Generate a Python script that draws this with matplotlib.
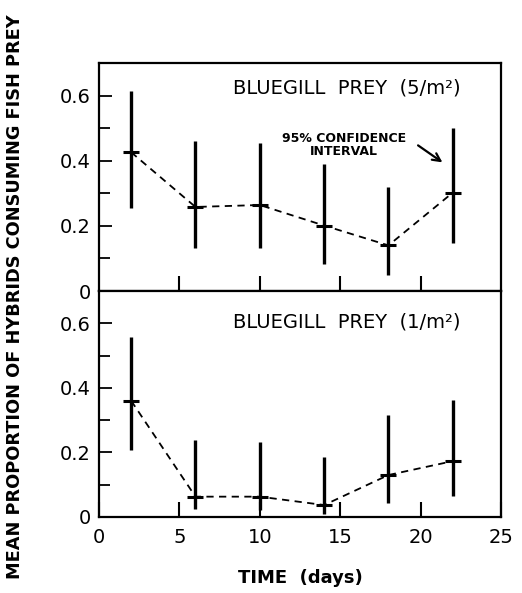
import matplotlib
matplotlib.use("Agg")
import matplotlib.pyplot as plt
import numpy as np

days = [2, 6, 10, 14, 18, 22]

# Bluegill prey 5/m^2
mean_5 = [0.426, 0.258, 0.264, 0.201, 0.140, 0.302]
low_5 = [0.256, 0.132, 0.132, 0.083, 0.050, 0.148]
high_5 = [0.614, 0.459, 0.454, 0.390, 0.320, 0.500]

# Bluegill prey 1/m^2
mean_1 = [0.360, 0.063, 0.063, 0.037, 0.130, 0.173]
low_1 = [0.207, 0.024, 0.022, 0.008, 0.042, 0.065]
high_1 = [0.558, 0.238, 0.231, 0.187, 0.316, 0.362]

xticks = [0, 5, 10, 15, 20, 25]
yticks_major = [0, 0.2, 0.4, 0.6]
yticks_minor = [0.1, 0.3, 0.5]

plt.rcParams['font.family'] = ['DejaVu Sans']

fig = plt.figure(figsize=(5.22, 5.93), dpi=100)
W, H = 522, 593
left = 99 / W
width = (501 - 99) / W
ax1 = fig.add_axes([left, 1 - 291 / H, width, (291 - 63) / H])
ax2 = fig.add_axes([left, 1 - 517 / H, width, (517 - 291) / H])


def panel(ax, mean, low, high, title, ty):
    mean = np.array(mean)
    low = np.array(low)
    high = np.array(high)
    ax.vlines(days, low, high, color='black', lw=2.4)
    ax.plot(days, mean, ls=(0, (4, 3)), color='black', lw=1.3)
    ax.plot(days, mean, ls='none', marker='_', ms=11, mew=2.2, color='black')
    ax.set_xlim(0, 25)
    ax.set_ylim(0, 0.7)
    ax.set_yticks(yticks_major)
    ax.set_yticklabels(['0', '0.2', '0.4', '0.6'])
    ax.set_yticks(yticks_minor, minor=True)
    ax.set_xticks([5, 10, 15, 20])
    ax.tick_params(axis='x', direction='in', length=11, width=1.5,
                   labelbottom=False)
    ax.tick_params(axis='y', direction='in', length=9, width=1.3,
                   labelsize=14, pad=6)
    ax.tick_params(axis='y', which='minor', direction='in', length=8, width=1.3)
    for s in ax.spines.values():
        s.set_linewidth(1.6)
    ax.text(0.333, ty, title, transform=ax.transAxes, fontsize=14,
            va='center', ha='left')


panel(ax1, mean_5, low_5, high_5, 'BLUEGILL  PREY  (5/m²)', 0.89)
panel(ax2, mean_1, low_1, high_1, 'BLUEGILL  PREY  (1/m²)', 0.863)

ax2.set_xticks(xticks, labels=[str(v) for v in xticks])
ax2.tick_params(axis='x', direction='in', length=11, width=1.5,
                labelbottom=True, labelsize=14, pad=8)

ax2.set_xlabel('TIME  (days)', fontsize=13, fontweight='bold', labelpad=16)

ax1.text(0.61, 0.64, '95% CONFIDENCE\nINTERVAL',
         transform=ax1.transAxes, fontsize=9, fontweight='bold',
         ha='center', va='center', linespacing=1.0)
ax1.annotate('', xy=(21.5, 0.39), xytext=(19.7, 0.452),
             arrowprops=dict(arrowstyle='->', lw=1.6, color='black',
                             mutation_scale=14))

fig.text(15 / W, 0.5, 'MEAN PROPORTION OF HYBRIDS CONSUMING FISH PREY',
         rotation=90, ha='center', va='center', fontsize=12.8,
         fontweight='bold')

fig.savefig('out.png', dpi=100)
